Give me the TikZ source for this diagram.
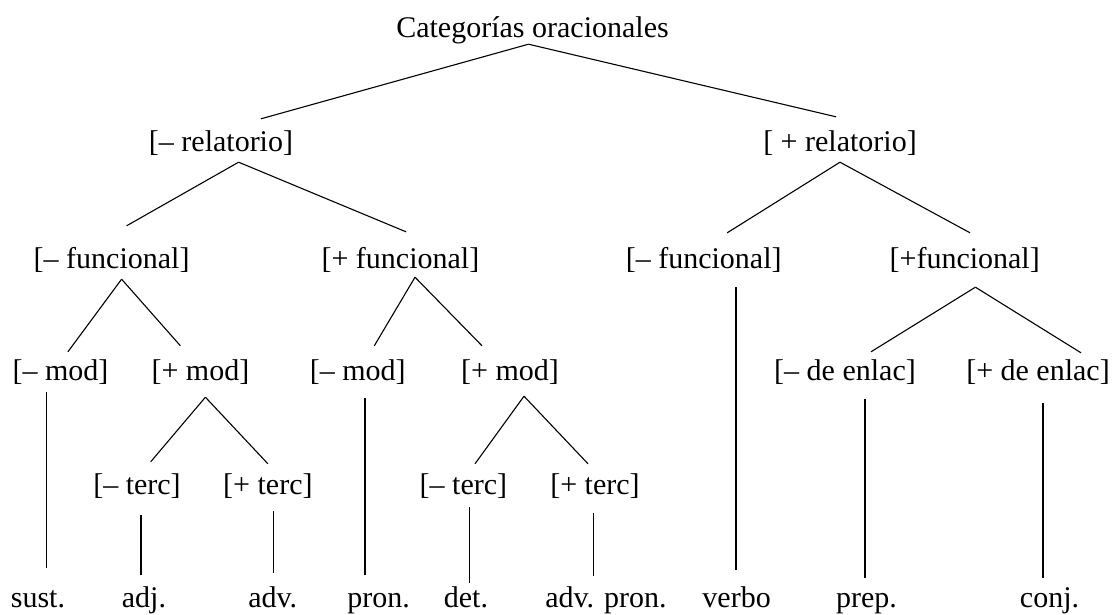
\documentclass[tikz,border=0pt]{standalone}
\usepackage{fontspec}
\setmainfont{Liberation Serif}
\usepackage{tikz}
\tikzset{
  %% ---- labels ----
  feat/.style   = {inner sep=0pt, anchor=base,
                   text height=20pt, text depth=6pt,
                   font=\fontsize{30pt}{36pt}\selectfont},
  leaf/.style   = {feat},
  %% ---- branches ----
  branch/.style = {line width=1.1pt, color=black},
}

\begin{document}
\begin{tikzpicture}[x=1pt, y=-1pt]

  \useasboundingbox (0,0) rectangle (1114,615);

  \node[feat] (root) at (532.5,38) {Categorías oracionales};

  %% relatorio
  \node[feat] (rel1) at (221,152) {[– relatorio]};
  \node[feat] (rel2) at (840,152) {[ + relatorio]};

  %% funcional
  \node[feat] (fun1) at (111.6,268) {[– funcional]};
  \node[feat] (fun2) at (400.4,268) {[+ funcional]};
  \node[feat] (fun3) at (703.7,268) {[– funcional]};
  \node[feat] (fun4) at (964.7,268) {[+funcional]};

  %% mod / de enlac
  \node[feat] (mod1) at (60.5,380)  {[– mod]};
  \node[feat] (mod2) at (200.4,380) {[+ mod]};
  \node[feat] (mod3) at (357.7,380) {[– mod]};
  \node[feat] (mod4) at (510,380)   {[+ mod]};
  \node[feat] (enl1) at (845,380)   {[– de enlac]};
  \node[feat] (enl2) at (1038,380)  {[+ de enlac]};

  %% terc
  \node[feat] (terc1) at (137,494)   {[– terc]};
  \node[feat] (terc2) at (267.9,494) {[+ terc]};
  \node[feat] (terc3) at (463.4,494) {[– terc]};
  \node[feat] (terc4) at (595,494)   {[+ terc]};

  %% categories
  \node[leaf] (sust)    at (38,607)    {sust.};
  \node[leaf] (adj)     at (144,607)   {adj.};
  \node[leaf] (adv)     at (272.7,607) {adv.};
  \node[leaf] (pron)    at (378.6,607) {pron.};
  \node[leaf] (det)     at (466,607)   {det.};
  \node[leaf] (advpron) at (606,607)   {adv. pron.};
  \node[leaf] (verbo)   at (736.6,607) {verbo};
  \node[leaf] (prep)    at (866.5,607) {prep.};
  \node[leaf] (conj)    at (1049.5,607){conj.};

  %% branches: parent/child/xshift/drop/xshift/rise
  \foreach \p/\c/\a/\b/\d/\e in {
      root/rel1/-4/0/40/13,     root/rel2/-4/0/-4/15,
      rel1/fun1/17.6/4/15/22,   rel1/fun2/17.6/4/5.6/16,
      rel2/fun3/0/4/23.5/15,    rel2/fun4/0/4/5.3/15,
      fun1/mod1/10/5/7.4/8,     fun1/mod2/10/5/-20/14,
      fun2/mod3/14.6/3/16.6/14, fun2/mod4/14.6/3/-28/14,
      fun3/verbo/32.3/13/-0.6/17,
      fun4/enl1/10.7/13/26/8,   fun4/enl2/10.7/13/43/7,
      mod1/sust/-14/6/8.5/19,
      mod2/terc1/5/11/13.7/12,  mod2/terc2/5/11/0/10,
      mod3/pron/7.3/12/-13.6/12,
      mod4/terc3/14/10/11.6/10, mod4/terc4/14/10/-7/10,
      terc1/adj/4/15/-3/12,     terc2/adv/5.3/11/0.5/14,
      terc3/det/6/7/3.4/4,      terc4/advpron/-1.7/13/-12.7/11,
      enl1/prep/20/13/-1.5/9,   enl2/conj/5/17/-6.5/9}
    \draw[branch] ([xshift=\a, yshift=-\b]\p.south) -- ([xshift=\d, yshift=\e]\c.north);

\end{tikzpicture}
\end{document}
